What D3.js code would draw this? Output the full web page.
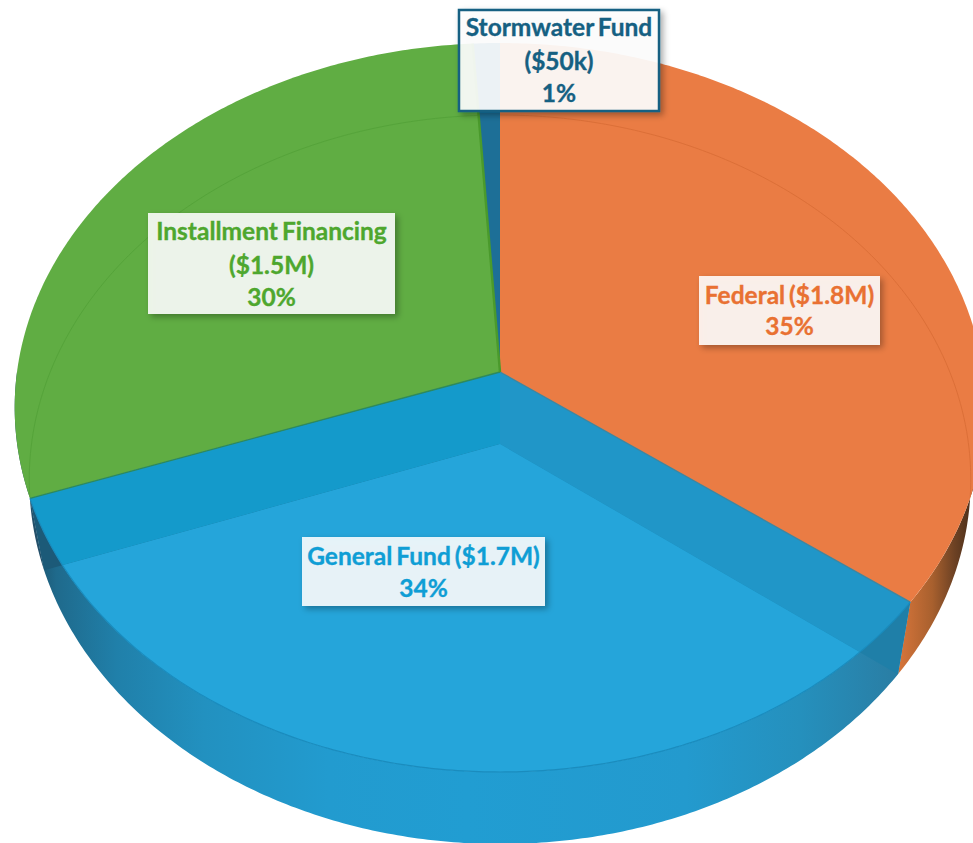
<!DOCTYPE html>
<html><head><meta charset="utf-8">
<script src="https://cdn.jsdelivr.net/npm/d3@7"></script>
<style>html,body{margin:0;padding:0;background:#fff;overflow:hidden}svg{display:block}</style>
</head><body><svg id="c" width="973" height="843"></svg>
<script>
const categories = ["Federal","General Fund","Installment Financing","Stormwater Fund"];
const amounts = [1.78,1.73,1.49,0.05];
const topColors = ["#ea7c44","#25a5da","#60ad43","#1d6f97"];
const labelLines = [["Federal ($1.8M)","35%"],["General Fund ($1.7M)","34%"],["Installment Financing","($1.5M)","30%"],["Stormwater Fund","($50k)","1%"]];
const labelColors = ["#e97132","#0f9ed5","#4ea72e","#156082"];

const svg = d3.select("#c"), defs = svg.append("defs");
const slices = d3.pie().sort(null).value(d=>d)(amounts);

// perspective projection of the disc; depth 0 = upper face, 1 = lower face
const K = 0.0974, B = 372, A = 324.8, R = 483;
function proj(theta, r, depth){
  const X = r*Math.sin(theta), Y = r*Math.cos(theta), w = 1+K*Y;
  const s = 1-0.03*depth;
  return [500+s*R*X/w, (B-A*Y)/w+72*depth];
}
const line = d3.line().curve(d3.curveLinear);
function arcPts(a0,a1,depth){
  const n = Math.max(2,Math.ceil(Math.abs(a1-a0)/0.01));
  return d3.range(n+1).map(i=>proj(a0+(a1-a0)*i/n,1,depth));
}
const wedge=(a0,a1,depth)=>line([proj(0,0,depth),...arcPts(a0,a1,depth)])+"Z";
const band=(a0,a1)=>line([...arcPts(a0,a1,1),...arcPts(a1,a0,0)])+"Z";

function grad(id,x1,x2,stops){
  const g=defs.append("linearGradient").attr("id",id).attr("gradientUnits","userSpaceOnUse")
    .attr("x1",x1).attr("x2",x2).attr("y1",0).attr("y2",0);
  stops.forEach(s=>g.append("stop").attr("offset",s[0]).attr("stop-color",s[1]));
}
grad("gBlue",30,905,[[0,"#1c4f68"],[0.03,"#1f6a8c"],[0.1,"#2080aa"],[0.2,"#2291c0"],[0.34,"#229bcf"],[0.5,"#219dd2"],[0.75,"#239ace"],[0.88,"#2590bd"],[1,"#2a7ca2"]]);
grad("gOrange",900,972,[[0,"#d5743a"],[0.45,"#a8602e"],[0.75,"#6e4224"],[1,"#4a2e1a"]]);
const f=defs.append("filter").attr("id","sh").attr("x","-10%").attr("y","-10%").attr("width","125%").attr("height","130%");
f.append("feDropShadow").attr("dx",3).attr("dy",3).attr("stdDeviation",3).attr("flood-color","#000").attr("flood-opacity",0.35);

const [oS,bS,gS,sS]=slices;
defs.append("clipPath").attr("id","cpBlue").append("path").attr("d",wedge(bS.startAngle,bS.endAngle,0));
defs.append("clipPath").attr("id","cpGreen").append("path").attr("d",wedge(gS.startAngle,gS.endAngle,0));
defs.append("clipPath").attr("id","cpOrange").append("path").attr("d",wedge(oS.startAngle,oS.endAngle,0));

// side bands
svg.append("path").attr("d",band(Math.PI*0.5,oS.endAngle)).attr("fill","url(#gOrange)");
svg.append("path").attr("d",band(gS.startAngle,Math.PI*1.5)).attr("fill","#24506a");
svg.append("path").attr("d",band(bS.startAngle,bS.endAngle)).attr("fill","url(#gBlue)");

// upper faces
svg.append("path").attr("d",wedge(oS.startAngle,oS.endAngle,0)).attr("fill",topColors[0]);
svg.append("path").attr("d",wedge(gS.startAngle,gS.endAngle,0)).attr("fill",topColors[2]);
svg.append("path").attr("d",wedge(sS.startAngle,sS.endAngle,0)).attr("fill",topColors[3]);
svg.append("path").attr("d",wedge(bS.startAngle,bS.endAngle,0)).attr("fill","#149acb");

// radial walls of the blue slice: darker where they hang below the upper rim
const wall=a=>line([proj(0,0,0),proj(a,1,0),proj(a,1,1),proj(0,0,1)])+"Z";
svg.append("path").attr("d",wall(bS.endAngle)).attr("fill","#1c5a78");
svg.append("path").attr("d",wall(bS.endAngle)).attr("fill","#149acb").attr("clip-path","url(#cpBlue)");
svg.append("path").attr("d",wall(bS.startAngle)).attr("fill","#1f7fa8");
svg.append("path").attr("d",wall(bS.startAngle)).attr("fill","#2096c8").attr("clip-path","url(#cpBlue)");

// floor of the blue slice seen through the top
svg.append("path").attr("d",wedge(bS.startAngle,bS.endAngle,1)).attr("fill",topColors[1]).attr("clip-path","url(#cpBlue)");

// rear rim seen through the faces
[[oS,"cpOrange","#db6f38"],[gS,"cpGreen","#55a33a"]].forEach(([s,cp,col])=>{
  svg.append("path").attr("d",line(arcPts(s.startAngle-0.3,s.endAngle+0.3,1))).attr("fill","none")
    .attr("stroke",col).attr("stroke-width",1).attr("clip-path",`url(#${cp})`);
});

// edges
const edge=(a,col,w)=>svg.append("path").attr("d",line([proj(0,0,0),proj(a,1,0)])).attr("stroke",col).attr("stroke-width",w).attr("fill","none");
edge(oS.endAngle,"#3f86a0",1.3);
edge(bS.endAngle,"#2e8a5c",1.3);
edge(gS.endAngle,"#4a9a2c",2.5);
svg.append("path").attr("d",line(arcPts(bS.startAngle,bS.endAngle,0))).attr("fill","none").attr("stroke","#1a8cbe").attr("stroke-width",1.2);

// labels
const boxes=[[699,276,181,69,[304,335]],[302,537,243,69,[565,597]],[148,213,247,101,[240,274,306]],[459,10,200,101,[36,70,102]]];
boxes.forEach((b,i)=>{
  const g=svg.append("g");
  g.append("rect").attr("x",b[0]).attr("y",b[1]).attr("width",b[2]).attr("height",b[3])
    .attr("fill","#fff").attr("fill-opacity",i===3?0.9:0.87).attr("filter","url(#sh)")
    .attr("stroke",i===3?"#156082":"none").attr("stroke-width",i===3?2.5:0);
  labelLines[i].forEach((t,j)=>{
    g.append("text").attr("x",b[0]+b[2]/2).attr("y",b[4][j]).attr("text-anchor","middle")
      .attr("font-family","Lato, 'Open Sans', sans-serif").attr("font-weight",700).attr("font-size",24.5)
      .attr("word-spacing",-2).attr("stroke",labelColors[i]).attr("stroke-width",0.35)
      .attr("fill",labelColors[i]).text(t);
  });
});
</script></body></html>
